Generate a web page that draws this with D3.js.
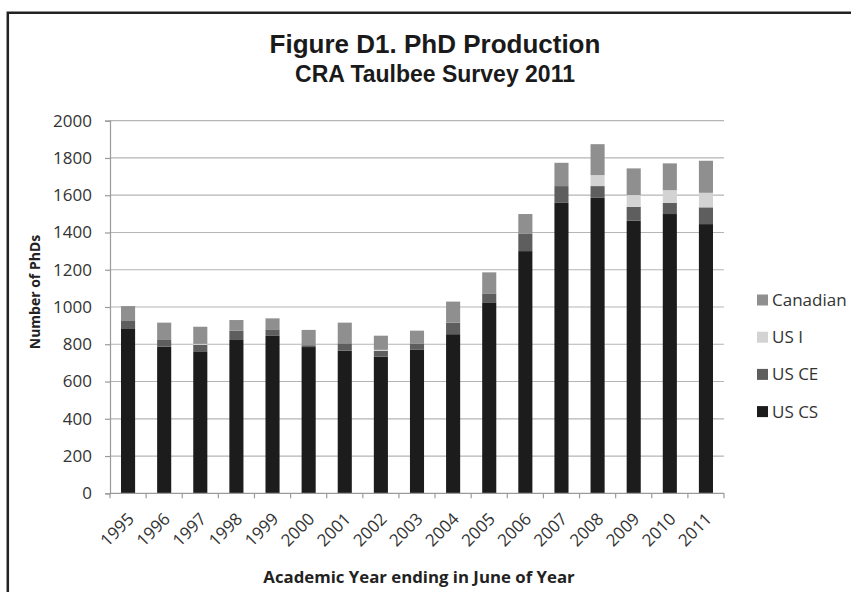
<!DOCTYPE html>
<meta charset="utf-8">
<script src="https://d3js.org/d3.v7.min.js"></script>
<style>
  body { margin: 0; background: #fff; }
  svg { display: block; }
</style>
<div id="chart"></div>
<script>
  // data
  var years = ["1995","1996","1997","1998","1999","2000","2001","2002","2003","2004","2005","2006","2007","2008","2009","2010","2011"]
  var usCS     = [882, 787, 762, 823, 845, 785, 766, 734, 770, 854, 1025, 1300, 1559, 1588, 1463, 1499, 1445]
  var usCE     = [43, 36, 35, 50, 35, 10, 39, 30, 32, 62, 48, 95, 90, 61, 75, 60, 90]
  var usI      = [0, 0, 5, 0, 0, 0, 0, 6, 0, 0, 0, 0, 0, 59, 63, 68, 78]
  var canadian = [80, 93, 92, 57, 59, 82, 111, 76, 71, 113, 113, 104, 125, 166, 143, 144, 172]
  var seriesNames = ["US CS", "US CE", "US I", "Canadian"]
  var yTicks = [0, 200, 400, 600, 800, 1000, 1200, 1400, 1600, 1800, 2000]

  var width = 851, height = 592
  var colors = {"US CS": "#1c1c1c", "US CE": "#5e5e5e", "US I": "#d3d3d3", "Canadian": "#8f8f8f"}

  var svg = d3.select("#chart").append("svg")
    .attr("width", width)
    .attr("height", height)

  // frame (top and left edges visible)
  svg.append("path")
    .attr("d", "M7.8,592 V12.8 H851")
    .attr("fill", "none")
    .attr("stroke", "#222")
    .attr("stroke-width", 2.5)

  // titles
  svg.append("text")
    .attr("x", 435).attr("y", 52.5)
    .attr("text-anchor", "middle")
    .style("font-family", "'Liberation Sans', Arial, sans-serif")
    .style("font-weight", "bold")
    .style("font-size", "26px")
    .attr("fill", "#1a1a1a")
    .text("Figure D1. PhD Production")
  svg.append("text")
    .attr("x", 435).attr("y", 81.5)
    .attr("text-anchor", "middle")
    .style("font-family", "'Liberation Sans', Arial, sans-serif")
    .style("font-weight", "bold")
    .style("font-size", "23px")
    .attr("fill", "#1a1a1a")
    .text("CRA Taulbee Survey 2011")

  // build table for the stack
  var rows = years.map(function(y, i) {
    return {year: y, "US CS": usCS[i], "US CE": usCE[i], "US I": usI[i], "Canadian": canadian[i]}
  })
  var stacked = d3.stack().keys(seriesNames)(rows)

  var x = d3.scaleBand()
    .domain(years)
    .range([110, 724])
    .paddingInner(0.61)
    .paddingOuter(0.305)

  var y = d3.scaleLinear()
    .domain([0, 2000])
    .range([493.3, 120.7])

  // gridlines
  svg.append("g")
    .selectAll("line")
    .data(yTicks.filter(function(d) { return d > 0 }))
    .enter().append("line")
      .attr("x1", 110).attr("x2", 724)
      .attr("y1", function(d) { return y(d) })
      .attr("y2", function(d) { return y(d) })
      .attr("stroke", "#b5b5b5")
      .attr("stroke-width", 1.2)

  // y axis
  var yAxis = svg.append("g")
    .attr("transform", "translate(110,0)")
    .call(d3.axisLeft(y).tickValues(yTicks).tickSize(5).tickPadding(13).tickFormat(d3.format("d")))
  yAxis.select(".domain").attr("stroke", "#9a9a9a").attr("stroke-width", 1.2)
  yAxis.selectAll(".tick line").attr("stroke", "#9a9a9a").attr("stroke-width", 1.2)
  yAxis.selectAll(".tick text")
    .style("font-family", "'Open Sans', sans-serif")
    .style("font-size", "17px")
    .attr("fill", "#333")

  // bars
  svg.append("g")
    .selectAll("g")
    .data(stacked)
    .enter().append("g")
      .attr("fill", function(d) { return colors[d.key] })
    .selectAll("rect")
    .data(function(d) { return d })
    .enter().append("rect")
      .attr("x", function(d) { return x(d.data.year) })
      .attr("width", x.bandwidth())
      .attr("y", function(d) { return y(d[1]) })
      .attr("height", function(d) { return y(d[0]) - y(d[1]) })

  // x axis: ticks between categories
  var xAxis = svg.append("g")
  xAxis.append("line")
    .attr("x1", 110).attr("x2", 724)
    .attr("y1", y(0)).attr("y2", y(0))
    .attr("stroke", "#9a9a9a").attr("stroke-width", 1.2)
  var boundaries = years.map(function(d) { return x(d) - x.step() * x.paddingOuter() })
  boundaries.push(724)
  xAxis.selectAll(".xt")
    .data(boundaries)
    .enter().append("line")
      .attr("x1", function(d) { return d }).attr("x2", function(d) { return d })
      .attr("y1", y(0)).attr("y2", y(0) + 5)
      .attr("stroke", "#9a9a9a").attr("stroke-width", 1.2)
  xAxis.selectAll("text")
    .data(years)
    .enter().append("text")
      .attr("transform", function(d) {
        return "translate(" + (x(d) + x.bandwidth() / 2 + 7) + ",520) rotate(-45)"
      })
      .attr("text-anchor", "end")
      .style("font-family", "'Open Sans', sans-serif")
      .style("font-size", "17px")
      .attr("fill", "#333")
      .text(function(d) { return d })

  // axis titles
  svg.append("text")
    .attr("x", 419).attr("y", 583)
    .attr("text-anchor", "middle")
    .style("font-family", "'Open Sans', sans-serif")
    .style("font-weight", "bold")
    .style("font-size", "16.8px")
    .attr("fill", "#222")
    .text("Academic Year ending in June of Year")
  svg.append("text")
    .attr("transform", "translate(40,292) rotate(-90)")
    .attr("text-anchor", "middle")
    .style("font-family", "'Open Sans', sans-serif")
    .style("font-weight", "bold")
    .style("font-size", "14px")
    .attr("fill", "#222")
    .text("Number of PhDs")

  // legend, top entry is Canadian
  var legendItems = seriesNames.slice().reverse()
  var legend = svg.append("g")
    .selectAll("g")
    .data(legendItems)
    .enter().append("g")
      .attr("transform", function(d, i) { return "translate(757," + (300 + i * 37.2) + ")" })
  legend.append("rect")
    .attr("x", 0).attr("y", -5.5)
    .attr("width", 11).attr("height", 11)
    .attr("fill", function(d) { return colors[d] })
  legend.append("text")
    .attr("x", 15).attr("y", 6)
    .style("font-family", "'Open Sans', sans-serif")
    .style("font-size", "17px")
    .attr("fill", "#333")
    .text(function(d) { return d })
</script>
